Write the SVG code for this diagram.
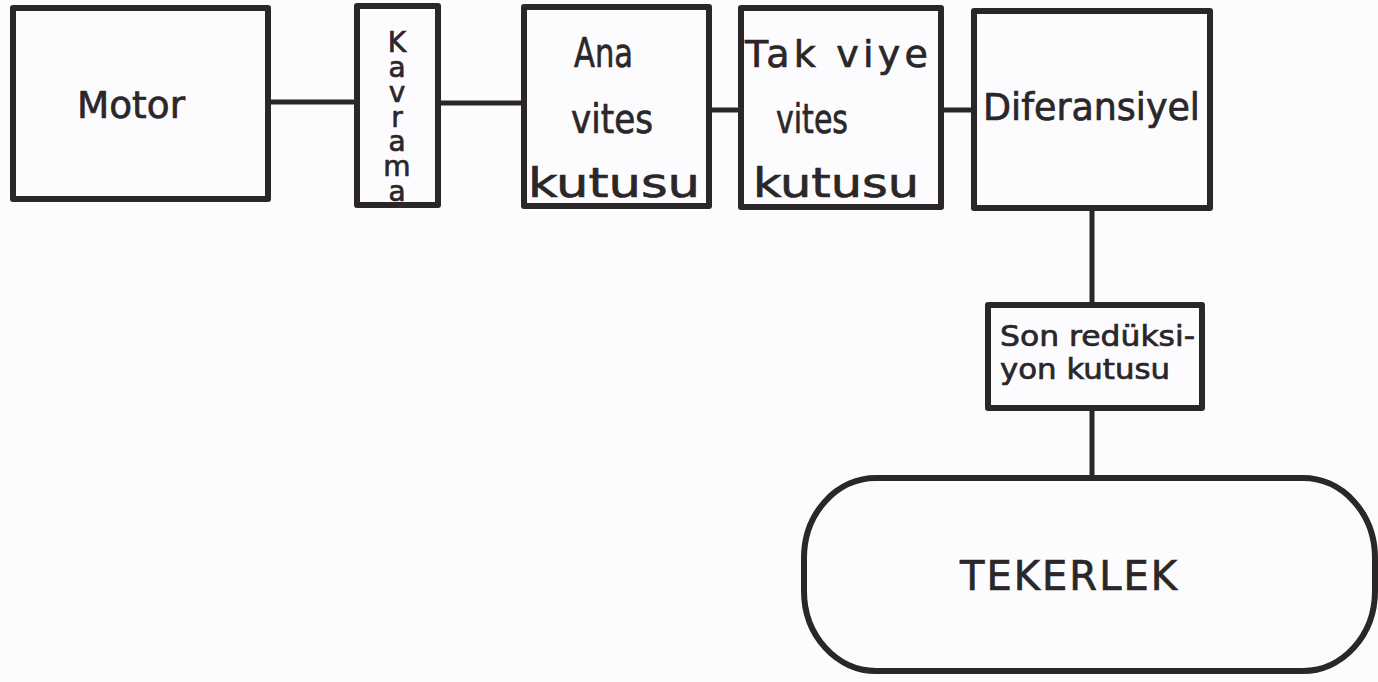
<svg xmlns="http://www.w3.org/2000/svg" width="1378" height="682" viewBox="0 0 1378 682">
<style>
.box{fill:none;stroke:#2b2628;stroke-width:6;stroke-linejoin:round}
.ln{fill:none;stroke:#2b2628;stroke-width:5;stroke-linecap:butt}
.t{font-family:"DejaVu Sans","Liberation Sans",sans-serif;fill:#2b2628;stroke:#2b2628;stroke-width:0.7}
.vert{writing-mode:vertical-rl;text-orientation:upright}
</style>
<rect width="1378" height="682" fill="#fcfcfe"/>
<g id="connectors">
<line class="ln" x1="268" y1="102" x2="357" y2="102"/>
<line class="ln" x1="438" y1="103" x2="524" y2="103"/>
<line class="ln" x1="709" y1="110" x2="741" y2="110"/>
<line class="ln" x1="941" y1="110" x2="974" y2="110"/>
<line class="ln" x1="1092" y1="208" x2="1092" y2="305"/>
<line class="ln" x1="1092" y1="408" x2="1092" y2="478"/>
</g>
<g id="motor">
<rect class="box" x="13" y="8" width="255" height="191"/>
<text class="t" x="77" y="118" font-size="38" textLength="108" lengthAdjust="spacingAndGlyphs">Motor</text>
</g>
<g id="kavrama">
<rect class="box" x="357" y="6" width="81" height="199"/>
<text class="t vert" x="397" y="26" font-size="28" textLength="182" lengthAdjust="spacing">Kavrama</text>
</g>
<g id="ana">
<rect class="box" x="524" y="7" width="185" height="199"/>
<text class="t" x="574" y="67" font-size="40" textLength="59" lengthAdjust="spacingAndGlyphs">Ana</text>
<text class="t" x="571" y="133" font-size="40" textLength="82" lengthAdjust="spacingAndGlyphs">vites</text>
<text class="t" x="528" y="197" font-size="40" textLength="172" lengthAdjust="spacingAndGlyphs">kutusu</text>
</g>
<g id="takviye">
<rect class="box" x="741" y="8" width="200" height="199"/>
<text class="t" x="745" y="67" font-size="38" textLength="183" lengthAdjust="spacing">Tak viye</text>
<text class="t" x="776" y="133" font-size="40" textLength="72" lengthAdjust="spacingAndGlyphs">vites</text>
<text class="t" x="753" y="197" font-size="40" textLength="166" lengthAdjust="spacingAndGlyphs">kutusu</text>
</g>
<g id="diferansiyel">
<rect class="box" x="974" y="11" width="236" height="197"/>
<text class="t" x="983" y="120" font-size="37" textLength="217" lengthAdjust="spacingAndGlyphs">Diferansiyel</text>
</g>
<g id="son">
<rect class="box" x="988" y="305" width="214" height="103"/>
<text class="t" x="1000" y="346" font-size="28" textLength="195" lengthAdjust="spacingAndGlyphs">Son redüksi-</text>
<text class="t" x="1000" y="379" font-size="28" textLength="170" lengthAdjust="spacingAndGlyphs">yon kutusu</text>
</g>
<g id="tekerlek">
<rect class="box" x="804" y="478" width="571" height="193" rx="72" ry="80"/>
<text class="t" x="960" y="590" font-size="40" textLength="217" lengthAdjust="spacing">TEKERLEK</text>
</g>
</svg>
